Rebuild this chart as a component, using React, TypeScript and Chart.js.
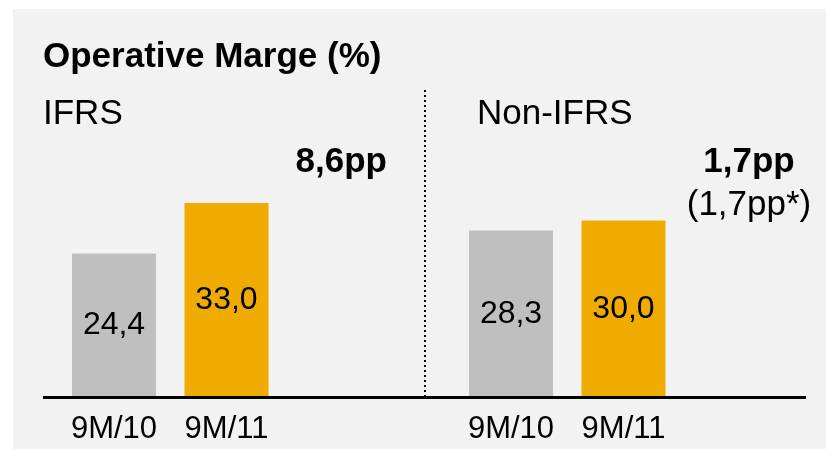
import React, { useEffect, useRef } from "react";
import { Chart, registerables } from "chart.js";

Chart.register(...registerables);

const chartTitle = "Operative Marge (%)";
const segments = ["IFRS", "Non-IFRS"];
const periods = ["9M/10", "9M/11"];
const margin9M10 = [24.4, 28.3];
const margin9M11 = [33.0, 30.0];
const deltas = ["8,6pp", "1,7pp"];
const deltaNotes = ["", "(1,7pp*)"];

const FONT = '"Liberation Sans", Arial, Helvetica, sans-serif';
const fmt = (v: number) => v.toFixed(1).replace(".", ",");

export default function App() {
  const ref = useRef<HTMLCanvasElement>(null);

  useEffect(() => {
    const overlay = {
      id: "overlay",
      afterDatasetsDraw(chart: any) {
        const ctx = chart.ctx;
        const a = chart.chartArea;
        const mid = (a.left + a.right) / 2;
        ctx.save();
        // dotted divider between segments
        ctx.strokeStyle = "#000";
        ctx.lineWidth = 2;
        ctx.setLineDash([2, 3]);
        ctx.beginPath();
        ctx.moveTo(mid, a.top - 13);
        ctx.lineTo(mid, a.bottom);
        ctx.stroke();
        ctx.setLineDash([]);
        // base axis line
        ctx.lineWidth = 3;
        ctx.beginPath();
        ctx.moveTo(a.left + 15, a.bottom + 0.5);
        ctx.lineTo(a.right - 16, a.bottom + 0.5);
        ctx.stroke();

        ctx.fillStyle = "#000";
        // value labels and period labels
        for (let d = 0; d < 2; d++) {
          const meta = chart.getDatasetMeta(d);
          const ds = chart.data.datasets[d];
          meta.data.forEach((el: any, i: number) => {
            const v = ds.data[i] as number;
            ctx.font = `32px ${FONT}`;
            ctx.textAlign = "center";
            ctx.textBaseline = "middle";
            ctx.fillText(fmt(v), el.x, (el.y + el.base) / 2);
            ctx.font = `31px ${FONT}`;
            ctx.textBaseline = "alphabetic";
            ctx.fillText(ds.label, el.x, a.bottom + 41);
          });
        }

        // title
        ctx.textBaseline = "alphabetic";
        ctx.textAlign = "left";
        ctx.font = `bold 35px ${FONT}`;
        ctx.fillText(chartTitle, 30, 58);

        // segment names
        ctx.font = `35px ${FONT}`;
        ctx.fillText(segments[0], 30, 115);
        ctx.fillText(segments[1], 464, 115);

        // deltas
        ctx.font = `bold 35px ${FONT}`;
        ctx.textAlign = "right";
        ctx.fillText(deltas[0], 374, 163);
        ctx.textAlign = "center";
        ctx.fillText(deltas[1], 736, 163);
        ctx.font = `35px ${FONT}`;
        if (deltaNotes[0]) ctx.fillText(deltaNotes[0], 326, 206);
        ctx.fillText(deltaNotes[1], 736, 206);
        ctx.restore();
      },
    };

    const chart = new Chart(ref.current!, {
      type: "bar",
      data: {
        labels: segments,
        datasets: [
          { label: periods[0], data: margin9M10, backgroundColor: "#bfbfbf" },
          { label: periods[1], data: margin9M11, backgroundColor: "#f0ab00" },
          { label: "", data: [null, null], backgroundColor: "rgba(0,0,0,0)" },
        ],
      },
      options: {
        animation: false,
        responsive: true,
        maintainAspectRatio: false,
        categoryPercentage: 0.85,
        barPercentage: 0.747,
        layout: { padding: { left: 15, right: 4, top: 94, bottom: 52 } },
        plugins: { legend: { display: false }, tooltip: { enabled: false }, title: { display: false } },
        scales: {
          x: { display: false },
          y: { display: false, min: 0, max: 50 },
        },
      } as any,
      plugins: [overlay],
    });
    return () => chart.destroy();
  }, []);

  return (
    <div
      style={{
        position: "fixed",
        left: 13,
        top: 9,
        width: 813,
        height: 440,
        background: "#f2f2f2",
      }}
    >
      <canvas ref={ref} />
    </div>
  );
}
